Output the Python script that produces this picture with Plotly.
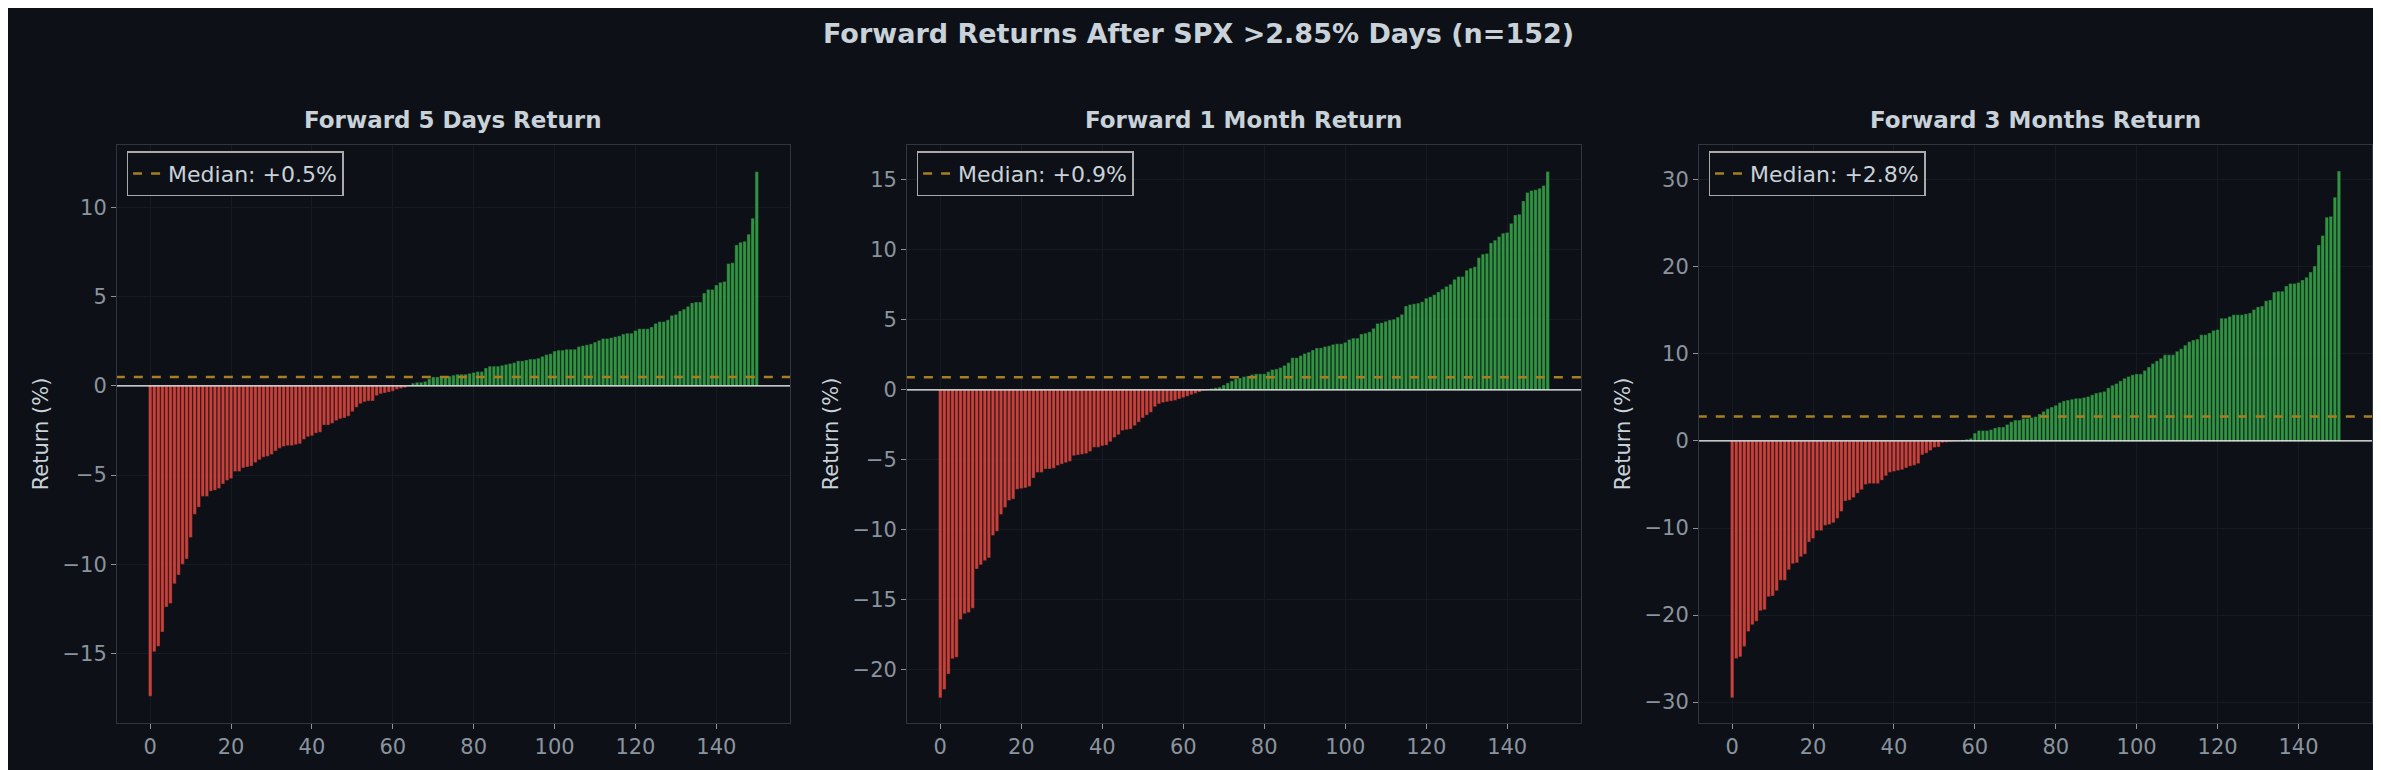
import plotly.graph_objects as go

idx = list(range(151))

fwd_5d = [
    -17.4, -14.9, -14.6, -13.8, -12.4, -12.2, -11.1, -10.6, -10.0, -9.7,
    -8.5, -7.2, -6.8, -6.2, -6.2, -5.9, -5.85, -5.75, -5.5, -5.3,
    -5.2, -4.8, -4.8, -4.6, -4.55, -4.5, -4.3, -4.15, -4.0, -3.95,
    -3.85, -3.65, -3.5, -3.4, -3.35, -3.35, -3.3, -3.25, -3.0, -2.85,
    -2.8, -2.65, -2.6, -2.2, -2.2, -2.1, -1.95, -1.85, -1.8, -1.7,
    -1.45, -1.2, -1.0, -0.9, -0.85, -0.85, -0.55, -0.45, -0.4, -0.35,
    -0.3, -0.2, -0.15, -0.1, 0.05, 0.15, 0.2, 0.2, 0.25, 0.4,
    0.5, 0.5, 0.5, 0.5, 0.55, 0.6, 0.65, 0.65, 0.65, 0.7,
    0.75, 0.8, 0.8, 1.0, 1.1, 1.1, 1.1, 1.15, 1.2, 1.25,
    1.3, 1.4, 1.4, 1.45, 1.5, 1.5, 1.55, 1.65, 1.75, 1.8,
    1.95, 2.0, 2.0, 2.05, 2.05, 2.05, 2.2, 2.25, 2.3, 2.35,
    2.45, 2.55, 2.65, 2.65, 2.7, 2.75, 2.8, 2.9, 2.95, 2.95,
    3.1, 3.2, 3.2, 3.2, 3.3, 3.5, 3.6, 3.6, 3.7, 3.95,
    4.0, 4.2, 4.3, 4.45, 4.65, 4.7, 4.7,
    5.2, 5.4, 5.4, 5.65, 5.8, 5.85, 6.85, 6.9, 7.9, 8.05, 8.1, 8.5, 9.4, 12.0,
]

fwd_1m = [
    -22.0, -21.4, -20.3, -19.2, -19.1, -16.4, -16.0, -15.9, -15.6, -12.8,
    -12.5, -12.2, -12.0, -10.4, -10.1, -8.9, -8.4, -7.9, -7.8, -7.1,
    -7.05, -7.0, -6.9, -6.3, -5.9, -5.9, -5.65, -5.65, -5.6, -5.4,
    -5.3, -5.2, -5.1, -4.7, -4.65, -4.6, -4.55, -4.4, -4.1, -4.1,
    -4.0, -3.95, -3.7, -3.4, -3.2, -2.9, -2.85, -2.8, -2.55, -2.3,
    -2.0, -1.8, -1.6, -1.2, -1.0, -0.9, -0.85, -0.8, -0.75, -0.65,
    -0.55, -0.45, -0.35, -0.25, -0.15, -0.05, 0.05, 0.1, 0.15, 0.2,
    0.35, 0.5, 0.65, 0.8, 0.85, 0.95, 1.0, 1.1, 1.15, 1.15,
    1.15, 1.3, 1.45, 1.5, 1.6, 1.75, 1.95, 2.3, 2.3, 2.45,
    2.6, 2.7, 2.85, 3.0, 3.0, 3.1, 3.15, 3.25, 3.3, 3.3,
    3.4, 3.6, 3.7, 3.7, 4.0, 4.05, 4.15, 4.4, 4.75, 4.8,
    4.9, 5.0, 5.05, 5.2, 5.4, 6.0, 6.1, 6.15, 6.2, 6.3,
    6.55, 6.65, 6.8, 7.0, 7.2, 7.4, 7.55, 7.9, 8.1, 8.1,
    8.55, 8.7, 8.8, 9.45, 9.7, 9.75, 10.5, 10.7, 10.95, 11.2,
    11.25, 11.9, 12.5, 12.55, 13.5, 14.1, 14.25, 14.3, 14.4, 14.6, 15.6,
]

fwd_3m = [
    -29.5, -25.0, -24.8, -23.6, -21.9, -21.1, -20.7, -19.5, -19.4, -17.9,
    -17.8, -17.2, -16.0, -16.0, -14.8, -14.1, -14.0, -13.3, -13.0, -11.6,
    -11.2, -10.3, -10.3, -9.7, -9.6, -9.4, -8.9, -8.1, -6.9, -6.8,
    -6.5, -6.0, -5.6, -5.0, -4.9, -4.9, -4.9, -4.5, -4.0, -3.6,
    -3.5, -3.4, -3.3, -3.1, -2.9, -2.8, -2.6, -1.6, -1.4, -1.1,
    -0.75, -0.7, -0.2, -0.15, -0.1, -0.05, -0.02, 0.1, 0.2, 0.3,
    0.9, 1.2, 1.2, 1.2, 1.3, 1.5, 1.6, 1.6, 1.9, 2.2,
    2.4, 2.4, 2.6, 2.6, 2.7, 2.8, 3.1, 3.4, 3.7, 3.9,
    4.1, 4.4, 4.6, 4.7, 4.8, 4.9, 4.9, 5.0, 5.1, 5.3,
    5.5, 5.6, 5.7, 6.1, 6.4, 6.6, 6.9, 7.2, 7.4, 7.6,
    7.7, 7.7, 8.1, 8.5, 8.9, 9.2, 9.5, 9.9, 9.9, 9.9,
    10.3, 10.6, 11.0, 11.4, 11.6, 11.7, 12.2, 12.2, 12.4, 12.7,
    12.8, 14.1, 14.1, 14.3, 14.5, 14.5, 14.5, 14.6, 14.7, 15.1,
    15.4, 15.5, 16.1, 16.2, 17.1, 17.2, 17.2, 17.8, 18.1, 18.1,
    18.2, 18.5, 18.8, 19.4, 20.1, 22.5, 23.6, 25.7, 25.8, 28.0, 31.0,
]

titles = ["Forward 5 Days Return", "Forward 1 Month Return", "Forward 3 Months Return"]
medians = [0.5, 0.9, 2.8]
y_ranges = [[-18.9, 13.5], [-23.8, 17.5], [-32.4, 34.0]]
y_ticks = [[-15, -10, -5, 0, 5, 10], [-20, -15, -10, -5, 0, 5, 10, 15], [-30, -20, -10, 0, 10, 20, 30]]
series = [fwd_5d, fwd_1m, fwd_3m]

BG = "#0d1117"
RED = "#d9453d"
GREEN = "#34a046"
GOLD = "#a87e22"
TXT = "#c9d1d9"
TICK = "#8b949e"

x_domains = [[0.0458, 0.3284], [0.3776, 0.6606], [0.7102, 0.9929]]
y_domain = [0.0714, 0.8221]

fig = go.Figure()
for k in range(3):
    xa = "x" if k == 0 else "x%d" % (k + 1)
    ya = "y" if k == 0 else "y%d" % (k + 1)
    lg = "legend" if k == 0 else "legend%d" % (k + 1)
    vals = series[k]
    cols = [GREEN if v > 0 else RED for v in vals]
    fig.add_trace(go.Bar(x=idx, y=vals, marker=dict(color=cols, opacity=0.92,
                                                    line=dict(color="#14171c", width=0.4)),
                         width=0.85, xaxis=xa, yaxis=ya, showlegend=False))
    fig.add_trace(go.Scatter(x=[-8.5, 158.5], y=[0, 0], mode="lines",
                             line=dict(color="white", width=1.3),
                             xaxis=xa, yaxis=ya, showlegend=False, hoverinfo="skip"))
    fig.add_trace(go.Scatter(x=[-8.5, 158.5], y=[medians[k]] * 2, mode="lines",
                             line=dict(color=GOLD, width=2.5, dash="dash"),
                             name="Median: %+.1f%%" % medians[k],
                             xaxis=xa, yaxis=ya, legend=lg))

    axis_x = dict(domain=x_domains[k], range=[-8.2, 158.2], anchor=ya,
                  tickvals=[0, 20, 40, 60, 80, 100, 120, 140],
                  showgrid=True, gridcolor="#161b22", zeroline=False,
                  showline=True, linecolor="#30363d", mirror=True,
                  ticks="outside", tickcolor=TICK, ticklen=5,
                  tickfont=dict(color=TICK, size=21))
    axis_y = dict(domain=y_domain, range=y_ranges[k], anchor=xa,
                  tickvals=y_ticks[k],
                  ticktext=[("\u2212%d" % -t) if t < 0 else str(t) for t in y_ticks[k]],
                  showgrid=True, gridcolor="#161b22", zeroline=False,
                  showline=True, linecolor="#30363d", mirror=True,
                  ticks="outside", tickcolor=TICK, ticklen=5,
                  tickfont=dict(color=TICK, size=21),
                  title=dict(text="Return (%)", font=dict(color=TXT, size=21), standoff=8))
    fig.update_layout({("xaxis" if k == 0 else "xaxis%d" % (k + 1)): axis_x,
                       ("yaxis" if k == 0 else "yaxis%d" % (k + 1)): axis_y})
    fig.update_layout({lg: dict(x=x_domains[k][0] + 0.004, y=y_domain[1] - 0.008,
                                xanchor="left", yanchor="top",
                                bgcolor=BG, bordercolor="#aaaaaa", borderwidth=1.5,
                                font=dict(color=TXT, size=22))})
    fig.add_annotation(text="<b>%s</b>" % titles[k], x=sum(x_domains[k]) / 2, y=0.835,
                       xref="paper", yref="paper", xanchor="center", yanchor="bottom",
                       showarrow=False, font=dict(color=TXT, size=23))

fig.add_annotation(text="<b>Forward Returns After SPX >2.85% Days (n=152)</b>",
                   x=0.5, y=0.99, xref="paper", yref="paper", xanchor="center", yanchor="top",
                   showarrow=False, font=dict(color=TXT, size=27))

fig.update_layout(width=2381, height=770, paper_bgcolor=BG, plot_bgcolor=BG,
                  margin=dict(l=0, r=0, t=0, b=0), bargap=0.2,
                  font=dict(family="DejaVu Sans", color=TXT))

fig.write_html("out.html")
